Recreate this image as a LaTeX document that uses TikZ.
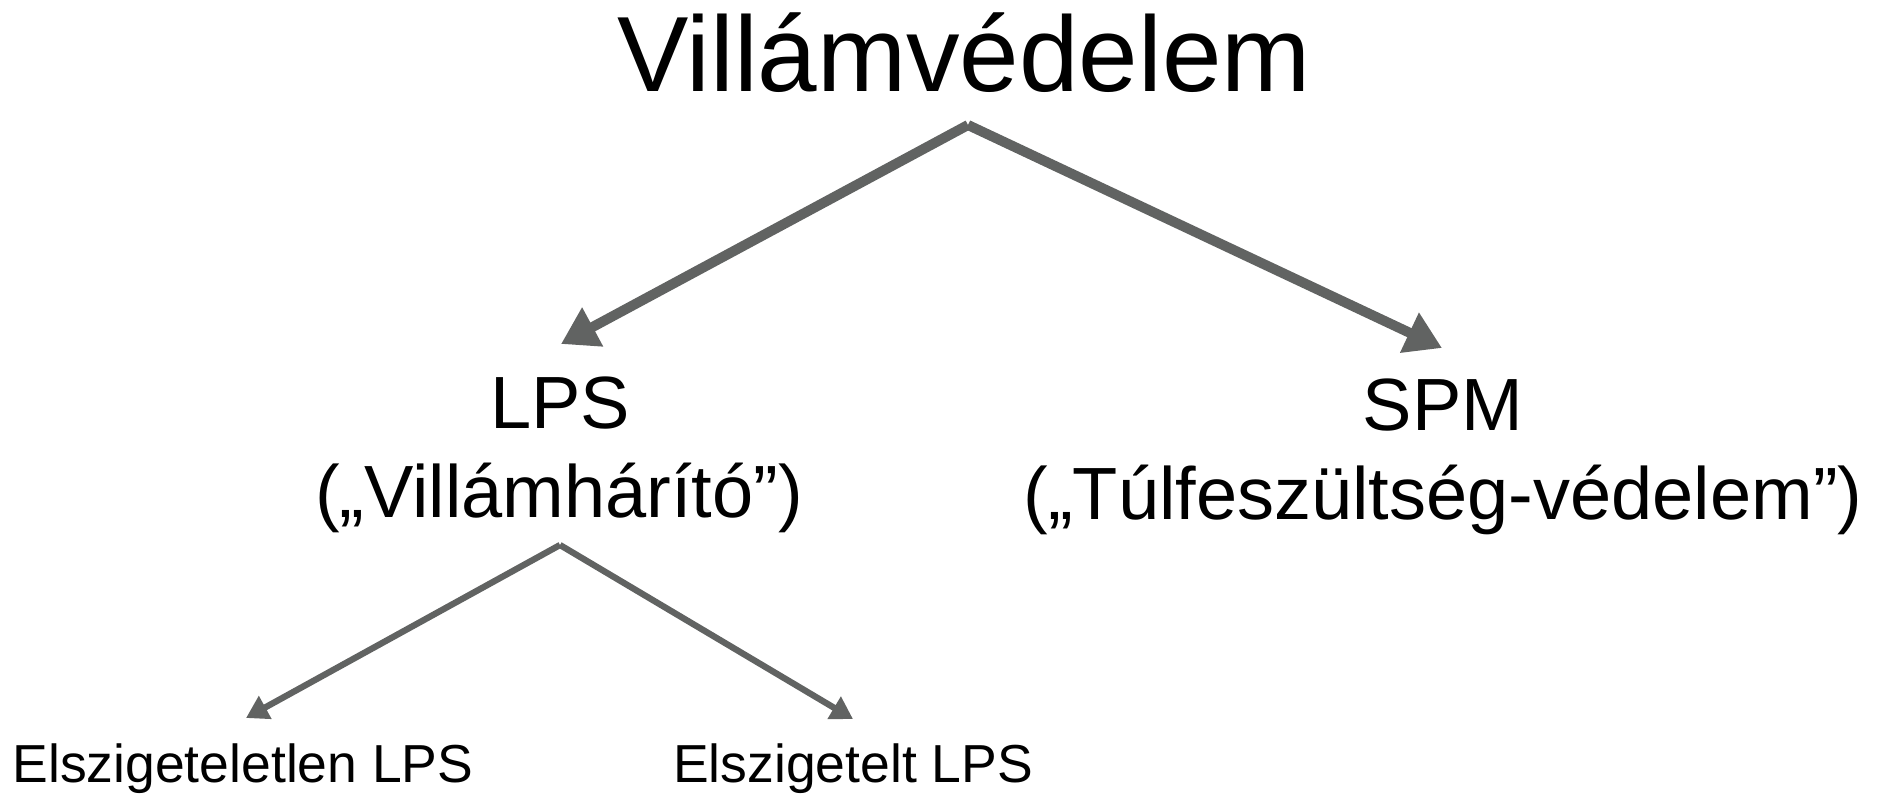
\documentclass[tikz,border=0pt]{standalone}
\usepackage{fontspec}
\setmainfont{Liberation Sans}
\usetikzlibrary{arrows.meta}
\definecolor{arrowgray}{RGB}{97,99,98}
\tikzset{
  lbl/.style={inner sep=0pt, anchor=base, text=black},
  midfont/.style={font=\fontsize{74}{80}\selectfont},
  lowfont/.style={font=\fontsize{53.5}{60}\selectfont},
  bigarrow/.style={draw=arrowgray, line width=10pt, -{Triangle[length=36pt,width=42pt]}},
  smallarrow/.style={draw=arrowgray, line width=6.3pt, -{Triangle[length=22pt,width=25pt]}}
}
\begin{document}
\begin{tikzpicture}[x=1pt,y=1pt]
\useasboundingbox (0,0) rectangle (1883,-793);
\node[lbl, font=\fontsize{107}{120}\selectfont] (title) at (964,-91) {Villámvédelem};
\node[lbl, midfont] (lps) at (560,-428) {LPS};
\node[lbl, midfont] (lps2) at (559,-517) {(„Villámhárító”)};
\node[lbl, midfont] (spm) at (1443,-430) {SPM};
\node[lbl, midfont] (spm2) at (1443,-519) {(„Túlfeszültség-védelem”)};
\node[lbl, lowfont] (isol0) at (243,-782) {Elszigeteletlen LPS};
\node[lbl, lowfont] (isol1) at (853,-782) {Elszigetelt LPS};
\coordinate (topapex) at (968,-125);
\coordinate (lpsin) at (561,-344);
\coordinate (spmin) at (1442,-348);
\coordinate (lpsapex) at (560,-545);
\coordinate (isol0in) at (246,-718);
\coordinate (isol1in) at (853,-719);
\draw[bigarrow] (topapex) -- (lpsin);
\draw[bigarrow] (topapex) -- (spmin);
\draw[smallarrow] (lpsapex) -- (isol0in);
\draw[smallarrow] (lpsapex) -- (isol1in);
\end{tikzpicture}
\end{document}
